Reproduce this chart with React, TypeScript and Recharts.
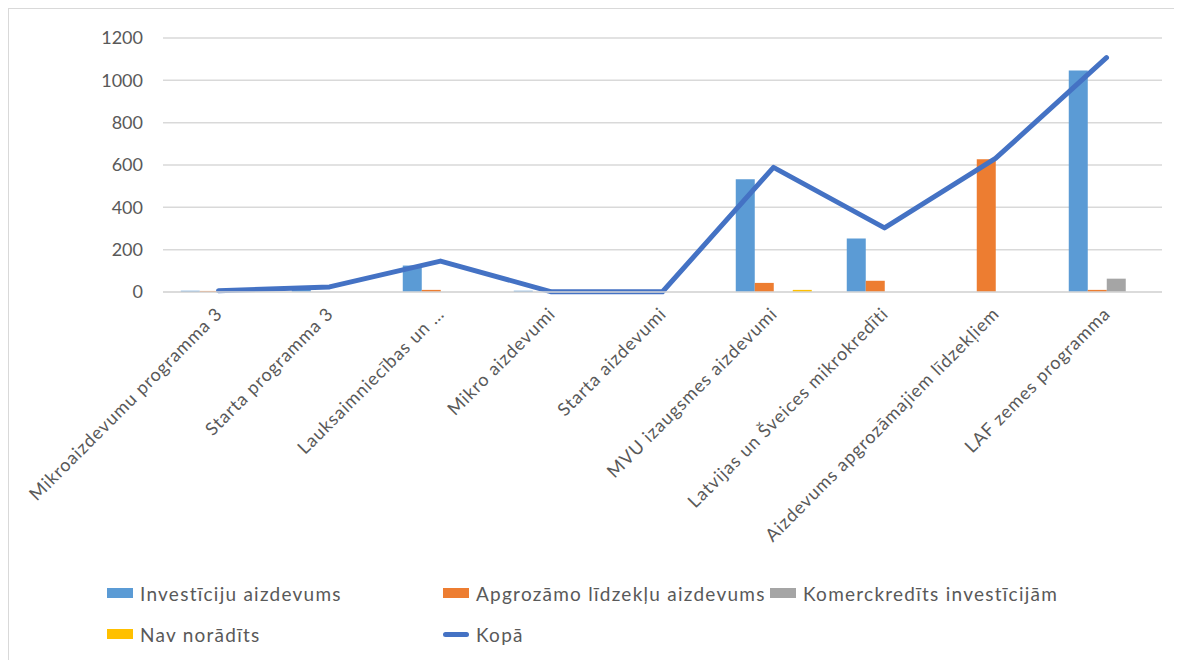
import { ComposedChart, Bar, Line, XAxis, YAxis, CartesianGrid } from 'recharts';

const kategorijas = [
  'Mikroaizdevumu programma 3',
  'Starta programma 3',
  'Lauksaimniecības un …',
  'Mikro aizdevumi',
  'Starta aizdevumi',
  'MVU izaugsmes aizdevumi',
  'Latvijas un Šveices mikrokredīti',
  'Aizdevums apgrozāmajiem līdzekļiem',
  'LAF zemes programma',
];

const investiciju = [6, 20, 125, 6, 0, 533, 253, 0, 1047];
const apgrozamo = [5, 0, 10, 0, 0, 43, 53, 627, 10];
const komerckredits = [0, 0, 0, 0, 0, 0, 0, 0, 63];
const navNoradits = [0, 0, 0, 0, 0, 10, 0, 0, 0];
const kopa = [6, 24, 146, 1, 1, 589, 303, 631, 1107];

const yTicks = [0, 200, 400, 600, 800, 1000, 1200];

const dati = kategorijas.map((k, i) => ({
  nosaukums: k,
  inv: investiciju[i],
  apg: apgrozamo[i],
  kom: komerckredits[i],
  nav: navNoradits[i],
  kopa: kopa[i],
}));

const fonts = 'Lato, "Open Sans", sans-serif';
const teksts = '#595959';

const SlipsTick = (props: any) => {
  const { x, y, payload } = props;
  return (
    <g transform={`translate(${x},${y + 10})`}>
      <text
        textAnchor="end"
        transform="rotate(-45)"
        fill={teksts}
        fontSize={18}
        letterSpacing={0.9}
        fontFamily={fonts}
        dy={7}
      >
        {payload.value}
      </text>
    </g>
  );
};

const legenda = [
  { nosaukums: 'Investīciju aizdevums', krasa: '#5b9bd5', veids: 'rect', left: 98, top: 0 },
  { nosaukums: 'Apgrozāmo līdzekļu aizdevums', krasa: '#ed7d31', veids: 'rect', left: 434, top: 0 },
  { nosaukums: 'Komerckredīts investīcijām', krasa: '#a5a5a5', veids: 'rect', left: 761, top: 0 },
  { nosaukums: 'Nav norādīts', krasa: '#ffc000', veids: 'rect', left: 98, top: 41 },
  { nosaukums: 'Kopā', krasa: '#4472c4', veids: 'line', left: 434, top: 41 },
];

export default function App() {
  return (
    <div
      style={{
        width: 1166,
        height: 660,
        border: '1px solid #d9d9d9',
        position: 'relative',
        fontFamily: fonts,
        background: '#fff',
      }}
    >
      <ComposedChart
        width={1166}
        height={560}
        data={dati}
        margin={{ top: 29, right: 13, left: 0, bottom: 0 }}
        barGap={0}
        barCategoryGap="16%"
      >
        <CartesianGrid vertical={false} stroke="#d9d9d9" strokeWidth={1.5} />
        <XAxis
          dataKey="nosaukums"
          axisLine={{ stroke: '#d9d9d9', strokeWidth: 1.5 }}
          tickLine={false}
          interval={0}
          height={277}
          tick={<SlipsTick />}
        />
        <YAxis
          domain={[0, 1200]}
          ticks={yTicks}
          width={154}
          axisLine={false}
          tickLine={false}
          tickMargin={14}
          tick={{ fill: teksts, fontSize: 18, fontFamily: fonts }}
        />
        <Bar dataKey="inv" fill="#5b9bd5" isAnimationActive={false} />
        <Bar dataKey="apg" fill="#ed7d31" isAnimationActive={false} />
        <Bar dataKey="kom" fill="#a5a5a5" isAnimationActive={false} />
        <Bar dataKey="nav" fill="#ffc000" isAnimationActive={false} />
        <Line
          dataKey="kopa"
          type="linear"
          stroke="#4472c4"
          strokeWidth={5}
          strokeLinecap="round"
          strokeLinejoin="round"
          dot={false}
          activeDot={false}
          isAnimationActive={false}
        />
      </ComposedChart>
      <div style={{ position: 'absolute', left: 0, top: 571, width: 1166, height: 70 }}>
        {legenda.map((l) => (
          <div
            key={l.nosaukums}
            style={{
              position: 'absolute',
              left: l.left,
              top: l.top,
              display: 'flex',
              alignItems: 'center',
              height: 26,
              color: teksts,
              fontSize: 19,
              letterSpacing: 1.25,
              whiteSpace: 'nowrap',
            }}
          >
            {l.veids === 'rect' ? (
              <span style={{ display: 'inline-block', width: 26, height: 10, background: l.krasa, marginRight: 7 }} />
            ) : (
              <span
                style={{ display: 'inline-block', width: 26, height: 5, borderRadius: 3, background: l.krasa, marginRight: 7 }}
              />
            )}
            {l.nosaukums}
          </div>
        ))}
      </div>
    </div>
  );
}
